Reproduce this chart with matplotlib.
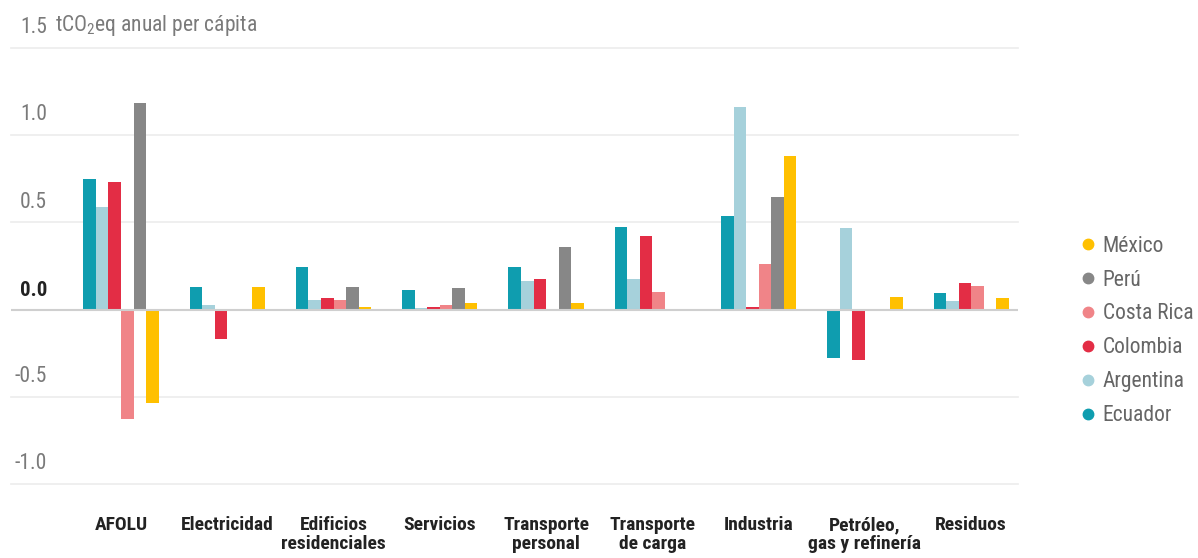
import numpy as np
import matplotlib.pyplot as plt
import matplotlib.transforms as mtransforms
from matplotlib.lines import Line2D

plt.rcParams['font.family'] = ['Roboto Condensed', 'Liberation Sans Narrow', 'Roboto', 'DejaVu Sans']
plt.rcParams['mathtext.fontset'] = 'custom'
plt.rcParams['mathtext.rm'] = 'Roboto Condensed'

sectores = ['AFOLU', 'Electricidad', 'Edificios\nresidenciales', 'Servicios',
            'Transporte\npersonal', 'Transporte\nde carga', 'Industria',
            'Petróleo,\ngas y refinería', 'Residuos']

# tCO2eq anual per cápita, same order as sectores
ecuador    = [0.75, 0.13, 0.245, 0.11, 0.245, 0.475, 0.535, -0.28, 0.097]
argentina  = [0.59, 0.027, 0.057, 0.012, 0.166, 0.177, 1.16, 0.467, 0.051]
colombia   = [0.73, -0.17, 0.065, 0.017, 0.177, 0.42, 0.015, -0.29, 0.15]
costa_rica = [-0.63, 0.0, 0.055, 0.025, 0.0, 0.1, 0.263, 0.0, 0.133]
peru       = [1.185, 0.0, 0.13, 0.122, 0.358, 0.004, 0.648, 0.0, 0.0]
mexico     = [-0.537, 0.131, 0.015, 0.04, 0.04, 0.0, 0.882, 0.072, 0.069]

paises = ['Ecuador', 'Argentina', 'Colombia', 'Costa Rica', 'Perú', 'México']
series = [ecuador, argentina, colombia, costa_rica, peru, mexico]
colores = ['#0f9daf', '#a6d1db', '#e32d45', '#f08488', '#878787', '#ffc000']

fig = plt.figure(figsize=(11.98, 5.58), dpi=100)
ax = fig.add_axes([11 / 1198, 1 - 484 / 558, (1018 - 11) / 1198, (484 - 48) / 558])

x = np.arange(len(sectores))
w = 0.118
for i, (vals, c) in enumerate(zip(series, colores)):
    ax.bar(x + (i - 2.5) * w, vals, width=w, color=c, zorder=3)

ax.set_xlim(-1.035, 8.44)
ax.set_ylim(-1.0, 1.5)

for y in [1.5, 1.0, 0.5, -0.5, -1.0]:
    ax.axhline(y, color='#ececec', lw=1.2, zorder=1, clip_on=False)
ax.axhline(0, color='#cfcfcf', lw=1.5, zorder=4)

trans = mtransforms.offset_copy(ax.get_yaxis_transform(), fig=fig, x=0, y=7, units='points')
for y in [1.5, 1.0, 0.5, 0.0, -0.5, -1.0]:
    if y == 0:
        ax.text(0.0357, y, '0.0', transform=trans, fontsize=15, fontweight='bold',
                color='#222222', va='bottom', ha='right')
    else:
        ax.text(0.0357, y, f'{y:.1f}', transform=trans, fontsize=15.5,
                color='#7a7a7a', va='bottom', ha='right')
ax.text(0.0437, 1.5, 'tCO$_2$eq anual per cápita', transform=trans, fontsize=15.5,
        color='#7a7a7a', va='bottom', ha='left')

ax.set_yticks([])
ax.set_xticks(x)
ax.set_xticklabels(sectores, fontsize=14, fontweight='bold', color='#222222',
                   linespacing=1.08)
ax.tick_params(axis='x', length=0, pad=23)
for s in ax.spines.values():
    s.set_visible(False)

handles = [Line2D([], [], marker='o', ls='', color=c, markersize=7.5)
           for c in colores[::-1]]
fig.legend(handles, paises[::-1], loc='center left', bbox_to_anchor=(0.89, 0.407),
           frameon=False, fontsize=15.5, labelcolor='#666666', handletextpad=0.2,
           labelspacing=0.6, handlelength=1.0, borderpad=0)

fig.savefig('out.png', dpi=100)
